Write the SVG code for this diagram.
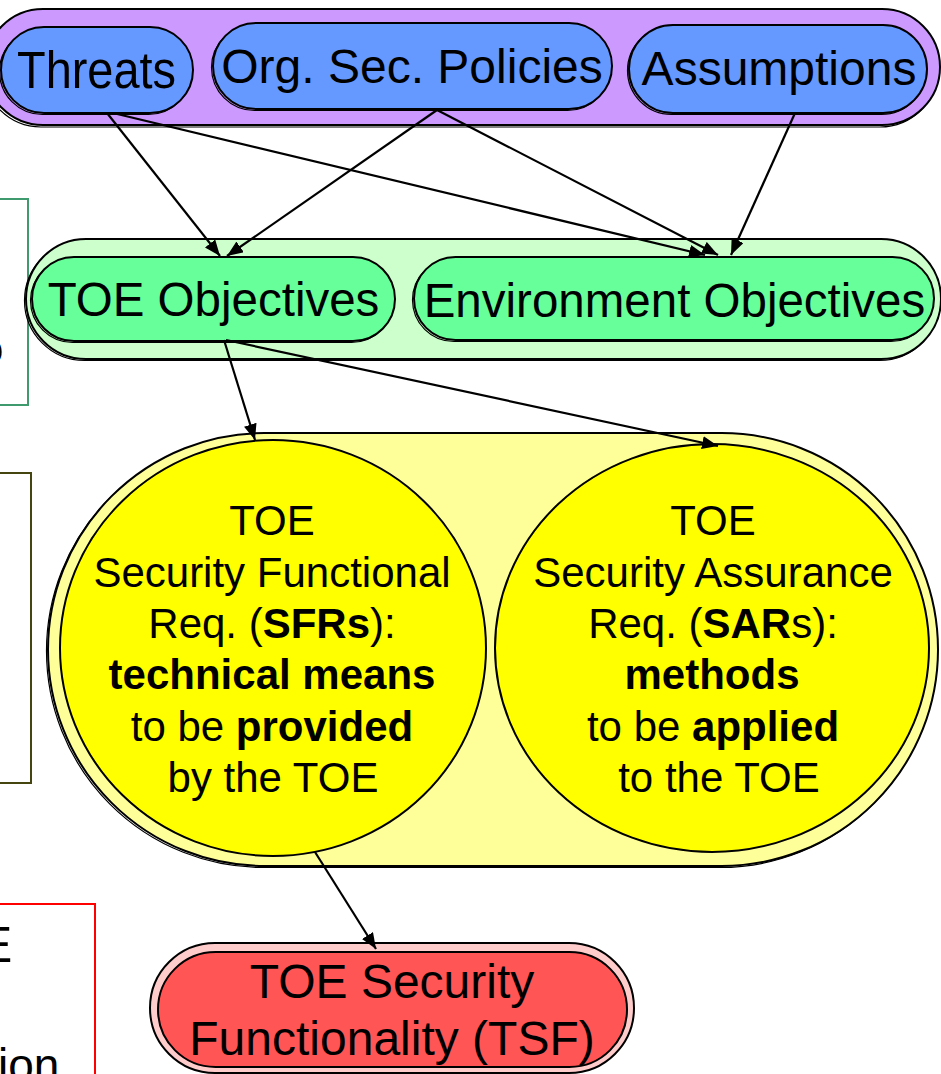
<svg xmlns="http://www.w3.org/2000/svg" width="941" height="1074" viewBox="0 0 941 1074">
<style>
text{font-family:"Liberation Sans",Arial,sans-serif;fill:#000}
.lbl{font-size:48px;text-anchor:middle}
.y{font-size:42px;text-anchor:middle}
.b{font-weight:bold}
.sh{fill:none;stroke:#000;stroke-width:1.2}
.st{stroke:#000;stroke-width:2}
.con line{stroke:#000;stroke-width:2.2;marker-end:url(#ah)}
</style>
<defs>
<marker id="ah" viewBox="0 0 16 13" markerWidth="16" markerHeight="13" refX="16" refY="6.5" orient="auto" markerUnits="userSpaceOnUse">
<path d="M0,0 L16,6.5 L0,13 z" fill="#000"/>
</marker>
</defs>
<rect width="941" height="1074" fill="#fff"/>

<!-- partial boxes at left edge -->
<g id="box-green">
<rect x="-5" y="199" width="33" height="206" fill="none" stroke="#3f9a6e" stroke-width="2"/>
<text x="-19" y="363" style="font-size:40px">o</text>
</g>
<g id="box-olive">
<rect x="-5" y="473" width="36" height="310" fill="none" stroke="#45450f" stroke-width="2"/>
</g>
<g id="box-red">
<rect x="-5" y="904" width="100" height="200" fill="none" stroke="#ff0000" stroke-width="2"/>
<text x="-21" y="962" style="font-size:50px">E</text>
<text x="-2" y="1081" style="font-size:46px">ion</text>
</g>

<!-- top group -->
<g id="grp-threats-policies-assumptions">
<rect class="sh" x="-17" y="11" width="955" height="116" rx="58"/>
<rect class="st" x="-15" y="9" width="955" height="116" rx="58" fill="#cc99ff"/>
</g>
<g id="threats">
<rect class="sh" x="-0.5" y="28.5" width="192" height="86" rx="43"/>
<rect class="st" x="1" y="27" width="192" height="86" rx="43" fill="#6699ff"/>
<text x="17" y="88" style="font-size:51px" textLength="159" lengthAdjust="spacingAndGlyphs">Threats</text>
</g>
<g id="org-sec-policies">
<rect class="sh" x="211.5" y="24.5" width="399" height="86" rx="43"/>
<rect class="st" x="213" y="23" width="399" height="86" rx="43" fill="#6699ff"/>
<text class="lbl" x="412" y="83">Org. Sec. Policies</text>
</g>
<g id="assumptions">
<rect class="sh" x="627.5" y="26.5" width="298" height="88" rx="44"/>
<rect class="st" x="629" y="25" width="298" height="88" rx="44" fill="#6699ff"/>
<text class="lbl" x="779" y="85">Assumptions</text>
</g>

<!-- objectives group -->
<g id="grp-objectives">
<rect class="sh" x="24.5" y="240.5" width="915" height="120" rx="60"/>
<rect class="st" x="26" y="239" width="915" height="120" rx="60" fill="#ccffcc"/>
</g>
<g id="toe-objectives">
<rect class="sh" x="30.5" y="258.5" width="363" height="84" rx="42"/>
<rect class="st" x="32" y="257" width="363" height="84" rx="42" fill="#66ff99"/>
<text class="lbl" x="213.5" y="316" style="font-size:47.5px">TOE Objectives</text>
</g>
<g id="env-objectives">
<rect class="sh" x="412.5" y="258.5" width="520" height="83" rx="41.5"/>
<rect class="st" x="414" y="257" width="520" height="83" rx="41.5" fill="#66ff99"/>
<text class="lbl" x="674.5" y="317" style="font-size:47.5px">Environment Objectives</text>
</g>

<!-- requirements group -->
<g id="grp-requirements">
<rect class="sh" x="46.5" y="434.5" width="890" height="433" rx="216.5"/>
<rect class="st" x="48" y="433" width="890" height="433" rx="216.5" fill="#ffff99"/>
</g>
<g id="sfr">
<ellipse class="st" cx="273" cy="648" rx="213" ry="208" fill="#ffff00"/>
<text class="y" x="272" y="535">TOE</text>
<text class="y" x="272" y="587">Security Functional</text>
<text class="y" x="272" y="638">Req. (<tspan class="b">SFRs</tspan>):</text>
<text class="y b" x="272" y="689">technical means</text>
<text class="y" x="272" y="741">to be <tspan class="b">provided</tspan></text>
<text class="y" x="273" y="792">by the TOE</text>
</g>
<g id="sar">
<ellipse class="st" cx="712" cy="648" rx="217" ry="204" fill="#ffff00"/>
<text class="y" x="713" y="535">TOE</text>
<text class="y" x="713" y="587">Security Assurance</text>
<text class="y" x="713" y="638">Req. (<tspan class="b">SAR</tspan>s):</text>
<text class="y b" x="712" y="689">methods</text>
<text class="y" x="713" y="741">to be <tspan class="b">applied</tspan></text>
<text class="y" x="719" y="792">to the TOE</text>
</g>

<!-- TSF -->
<g id="tsf">
<rect class="st" x="150" y="943" width="484" height="130" rx="65" fill="#ffcccc"/>
<rect class="st" x="158" y="952" width="469" height="115" rx="57.5" fill="#ff5555"/>
<text class="lbl" x="392" y="998">TOE Security</text>
<text class="lbl" x="392" y="1055">Functionality (TSF)</text>
</g>

<g id="connectors" class="con">
<line x1="107" y1="113" x2="220" y2="256"/>
<line x1="113" y1="113" x2="705" y2="255"/>
<line x1="437" y1="110" x2="227" y2="256"/>
<line x1="437" y1="110" x2="718" y2="255"/>
<line x1="795" y1="113" x2="731" y2="255"/>
<line x1="224" y1="340" x2="255" y2="440"/>
<line x1="226" y1="340" x2="718" y2="446"/>
<line x1="315" y1="852" x2="376" y2="949"/>
</g>
</svg>
